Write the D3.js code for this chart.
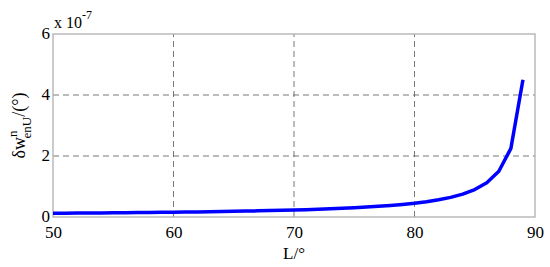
<!DOCTYPE html>
<html><head><meta charset="utf-8">
<script src="https://cdn.jsdelivr.net/npm/d3@7"></script>
<style>body{margin:0;background:#fff}svg{display:block}text{font-family:"Liberation Serif","Times New Roman",serif;fill:#000}</style>
</head><body>
<script>
const latitudes = [50,51,52,53,54,55,56,57,58,59,60,61,62,63,64,65,66,67,68,69,70,71,72,73,74,75,76,77,78,79,80,81,82,83,84,85,86,87,88,89];
const errorValues = [0.122,0.125,0.128,0.130,0.134,0.137,0.140,0.144,0.148,0.152,0.157,0.162,0.167,0.173,0.179,0.186,0.193,0.201,0.210,0.219,0.230,0.241,0.254,0.268,0.285,0.303,0.325,0.349,0.378,0.411,0.452,0.502,0.564,0.644,0.751,0.900,1.125,1.500,2.249,4.498];
const xTicks = [50,60,70,80,90];
const yTicks = [0,2,4,6];

const W=550,H=267;
const m={l:53,r:15,t:34,b:50};
const svg=d3.select("body").append("svg").attr("width",W).attr("height",H);
const x=d3.scaleLinear().domain([50,90]).range([m.l,W-m.r]);
const y=d3.scaleLinear().domain([0,6]).range([H-m.b,m.t]);

// grid
svg.append("g").selectAll("line").data(xTicks.slice(1,-1)).join("line")
  .attr("x1",d=>x(d)).attr("x2",d=>x(d)).attr("y1",y(0)).attr("y2",y(6))
  .attr("stroke","#555").attr("stroke-width",0.8).attr("stroke-dasharray","6,4");
svg.append("g").selectAll("line").data(yTicks.slice(1,-1)).join("line")
  .attr("y1",d=>y(d)).attr("y2",d=>y(d)).attr("x1",x(50)).attr("x2",x(90))
  .attr("stroke","#555").attr("stroke-width",0.8).attr("stroke-dasharray","6,4");

// frame
svg.append("rect").attr("x",x(50)).attr("y",y(6)).attr("width",x(90)-x(50)).attr("height",y(0)-y(6))
  .attr("fill","none").attr("stroke","#b0b0b0").attr("stroke-width",1.3);

// axes (labels only)
const xa=svg.append("g").attr("transform",`translate(0,${y(0)})`)
  .call(d3.axisBottom(x).tickValues(xTicks).tickSize(0).tickPadding(9).tickFormat(d3.format("d")));
xa.select(".domain").remove();
xa.selectAll("text").style("font-size","17px").attr("fill","#000");
const ya=svg.append("g").attr("transform",`translate(${x(50)},0)`)
  .call(d3.axisLeft(y).tickValues(yTicks).tickSize(0).tickPadding(3).tickFormat(d3.format("d")));
ya.select(".domain").remove();
ya.selectAll("text").style("font-size","17px").attr("fill","#000").attr("dy","0.28em");

// line
const line=d3.line().x((d,i)=>x(latitudes[i])).y(d=>y(d));
svg.append("path").datum(errorValues).attr("d",line).attr("fill","none")
  .attr("stroke","#0000ff").attr("stroke-width",3.5).attr("stroke-linejoin","round");

// exponent
const ex=svg.append("text").attr("x",x(50)+1).attr("y",28).style("font-size","16px");
ex.append("tspan").text("x 10");
ex.append("tspan").attr("dy",-9).style("font-size","12px").text("-7");

// x label
svg.append("text").attr("x",(x(50)+x(90))/2).attr("y",259).attr("text-anchor","middle")
  .style("font-size","17px").text("L/°");

// y label
const yl=svg.append("text").attr("transform",`translate(25,${(y(0)+y(6))/2}) rotate(-90)`)
  .attr("text-anchor","middle").style("font-size","18px");
yl.append("tspan").text("δw");
yl.append("tspan").attr("dy",-8).style("font-size","13px").text("n");
yl.append("tspan").attr("dx",-8).attr("dy",14).style("font-size","13px").text("enU");
yl.append("tspan").attr("dy",-6).text("/(°)");
</script>
</body></html>
